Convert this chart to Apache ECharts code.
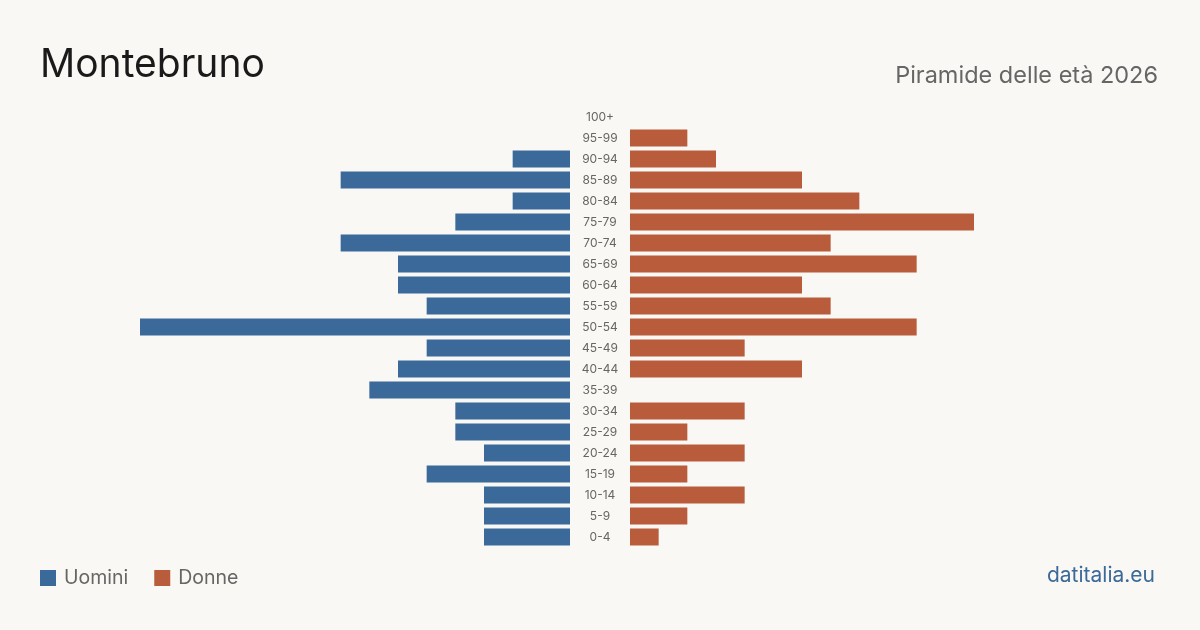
<!DOCTYPE html>
<html>
<head>
<meta charset="utf-8">
<script src="https://cdn.jsdelivr.net/npm/echarts@6/dist/echarts.min.js"></script>
<style>
html,body{margin:0;padding:0;background:#f9f8f4;}
#chart{width:1200px;height:630px;}
</style>
</head>
<body>
<div id="chart"></div>
<script>
// classi di età, dal basso verso l'alto
var ageClasses = ['0-4','5-9','10-14','15-19','20-24','25-29','30-34','35-39','40-44','45-49',
    '50-54','55-59','60-64','65-69','70-74','75-79','80-84','85-89','90-94','95-99','100+'];
var uomini = [3,3,3,5,3,4,4,7,6,5,15,5,6,6,8,4,2,8,2,0,0];
var donne  = [1,2,4,2,4,2,4,0,6,4,10,7,6,10,7,12,8,6,3,2,0];
var blu = '#3b6a9a', arancio = '#b95c3c';
var maxVal = 15;

var chart = echarts.init(document.getElementById('chart'));
var option = {
    backgroundColor: '#f9f8f4',
    textStyle: {fontFamily: 'Inter'},
    title: [{
        text: 'Montebruno',
        left: 35, top: 41,
        textStyle: {fontSize: 39, fontWeight: 'normal', color: '#1a1a1a', fontFamily: 'Inter'}
    }, {
        text: 'Piramide delle età 2026',
        right: 37, top: 59,
        textStyle: {fontSize: 23.5, fontWeight: 'normal', color: '#666', fontFamily: 'Inter'}
    }, {
        text: 'datitalia.eu',
        right: 40, top: 560,
        textStyle: {fontSize: 21, fontWeight: 'normal', color: blu, fontFamily: 'Inter'}
    }],
    legend: {
        left: 35, top: 563,
        icon: 'rect',
        itemWidth: 16, itemHeight: 16,
        itemGap: 26,
        textStyle: {fontSize: 19.5, color: '#666', fontFamily: 'Inter', padding: [0, 0, 0, 3]},
        data: ['Uomini', 'Donne']
    },
    grid: [
        {left: 140, width: 430, top: 106.5, height: 441},
        {left: 630, width: 430, top: 106.5, height: 441}
    ],
    xAxis: [
        {gridIndex: 0, type: 'value', min: 0, max: maxVal, inverse: true, show: false},
        {gridIndex: 1, type: 'value', min: 0, max: maxVal, show: false}
    ],
    yAxis: [
        {
            gridIndex: 0, type: 'category', data: ageClasses, position: 'right',
            axisLine: {show: false}, axisTick: {show: false},
            axisLabel: {align: 'center', margin: 30, fontSize: 12, color: '#666', fontFamily: 'Inter'}
        },
        {
            gridIndex: 1, type: 'category', data: ageClasses,
            axisLine: {show: false}, axisTick: {show: false}, axisLabel: {show: false}
        }
    ],
    series: [
        {name: 'Uomini', type: 'bar', xAxisIndex: 0, yAxisIndex: 0, data: uomini,
            barWidth: 17, itemStyle: {color: blu}, silent: true},
        {name: 'Donne', type: 'bar', xAxisIndex: 1, yAxisIndex: 1, data: donne,
            barWidth: 17, itemStyle: {color: arancio}, silent: true}
    ]
};
chart.setOption(option);
</script>
</body>
</html>
